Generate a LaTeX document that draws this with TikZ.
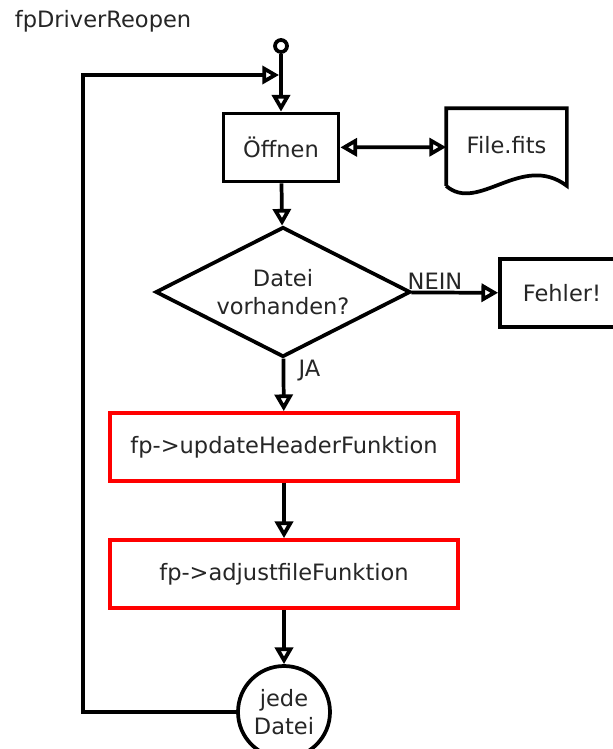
\documentclass[tikz,border=0pt]{standalone}
\usepackage{fontspec}
\setmainfont{DejaVu Sans}
\usepackage{tikz}
\usetikzlibrary{positioning,shapes.geometric,arrows.meta}

\tikzset{
  pfeil/.style={-{Triangle[open,length=12.5pt,width=13.5pt]}},
  doppelpfeil/.style={{Triangle[open,length=12.5pt,width=13.5pt]}-{Triangle[open,length=12.5pt,width=13.5pt]}},
  kasten/.style={draw,rectangle,minimum width=86.25pt,minimum height=51pt,inner sep=0pt},
  rotkasten/.style={draw=red,rectangle,minimum width=261pt,minimum height=51pt,inner sep=0pt},
  beschriftung/.style={inner sep=1pt}
}

\begin{document}
\begin{tikzpicture}[x=0.75pt,y=-0.75pt,line width=2.8pt,line join=miter,
    every node/.append style={font=\fontsize{16.9}{21.5}\selectfont,text=black!85}]
            \useasboundingbox[fill=white] (0,0) rectangle (613,749);
            \node[anchor=base west,inner sep=0pt] (titel) at (13,28) {fpDriverReopen};
            % Ablauf
            \node[draw,circle,minimum size=9pt,inner sep=0pt] (start) at (281,46) {};
            \node[kasten] (oeffnen) at (281,147.5) {Öffnen};
            \node[minimum width=87.75pt,minimum height=55.5pt,inner sep=0pt] (fits) at (506.5,147) {\raisebox{3.5pt}{File.fits}};
            \draw (fits.south west) -- (fits.north west) -- (fits.north east) -- (fits.south east)
                .. controls +(-45,-34) and +(32,28) .. (fits.south west);
            \node[draw,diamond,aspect=1.96,minimum width=191.25pt,minimum height=97.5pt,inner sep=0pt,align=center] (datei) at (283,292) {Datei\\vorhanden?};
            \node[kasten,minimum width=93pt] (fehler) at (562,293) {Fehler!};
            \node[rotkasten] (update) at (284,447) {fp->updateHeaderFunktion};
            \node[rotkasten] (adjust) at (284,574) {fp->adjustfileFunktion};
            \node[draw,circle,minimum size=69pt,inner sep=0pt,align=center] (jede) at (284,712) {jede\\Datei};
            \coordinate (ecke) at (83,75);
            \coordinate (einstieg) at (279,75);
            % Verbindungen
            \draw[pfeil] (start) -- (oeffnen);
            \draw[doppelpfeil] (oeffnen) -- (fits);
            \draw[pfeil] (oeffnen) -- (datei);
            \draw[pfeil] (datei) -- node[pos=0,anchor=south west,beschriftung,xshift=-5.25pt] (nein) {NEIN} (fehler);
            \draw[pfeil] (datei) -- node[pos=0.22,anchor=west,beschriftung,xshift=9pt] (ja) {JA} (update);
            \draw[pfeil] (update) -- (adjust);
            \draw[pfeil] (adjust) -- (jede);
            \draw[pfeil] (jede.west) -| (ecke) -- (einstieg);
\end{tikzpicture}
\end{document}
